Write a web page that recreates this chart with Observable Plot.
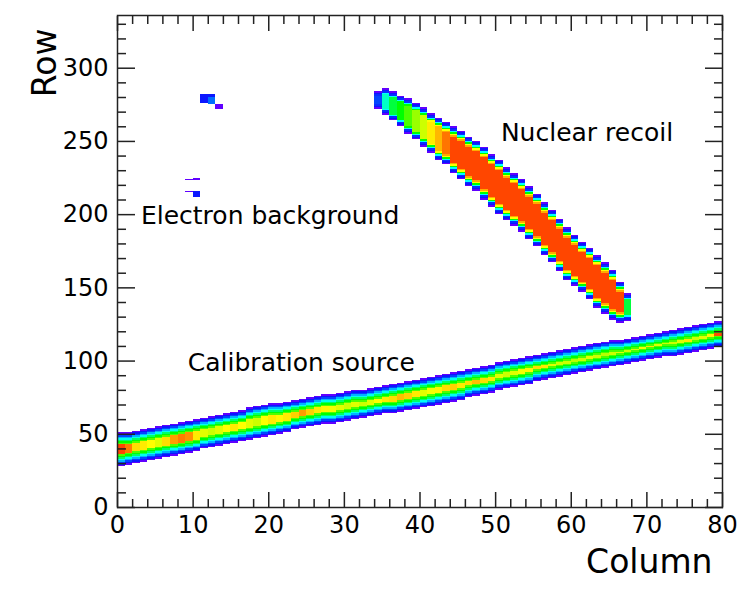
<!DOCTYPE html>
<html><head><meta charset="utf-8">
<script src="https://cdn.jsdelivr.net/npm/d3@7"></script>
<script src="https://cdn.jsdelivr.net/npm/@observablehq/plot@0.6"></script>
<style>body{margin:0;background:#fff} svg{display:block}</style>
</head><body><div id="chart"></div>
<script>
// ---- Nuclear recoil track (per column: lowest row, top row (exclusive), peak intensity) ----
const recoilColumns = [34,35,36,37,38,39,40,41,42,43,44,45,46,47,48,49,50,51,52,53,54,55,56,57,58,59,60,61,62,63,64,65,66,67];
const recoilLow  = [272,268,264,260,255,251,246,242,237,234,228,224,219,216,210,205,200,196,192,188,183,178,172,167,161,155,151,147,142,136,132,128,126,127];
const recoilHigh = [284,286,284,281,279,276,273,269,266,263,260,257,253,250,246,241,237,232,228,224,219,214,208,203,197,191,186,181,177,172,167,162,154,146];
const recoilPeak = [0.14,0.34,0.42,0.45,0.5,0.55,0.6,0.68,0.76,0.86,1,1,1,1,1,1,1,1,1,1,1,1,1,1,1,1,1,1,1,1,1,1,1,0.42];
const recoilRamp = [0.03,0.1,0.12,0.3,0.45,0.65,0.78];

// ---- Calibration source track ----
const calibColumns = [0,1,2,3,4,5,6,7,8,9,10,11,12,13,14,15,16,17,18,19,20,21,22,23,24,25,26,27,28,29,30,31,32,33,34,35,36,37,38,39,40,41,42,43,44,45,46,47,48,49,50,51,52,53,54,55,56,57,58,59,60,61,62,63,64,65,66,67,68,69,70,71,72,73,74,75,76,77,78,79];
const calibLow  = [28,29,30,31,32,33,34,35,36,37,38,40,41,42,43,44,45,46,47,48,49,50,51,53,54,55,56,57,57,58,59,60,61,62,63,64,64,65,66,67,68,69,70,71,72,73,75,76,77,78,80,81,82,83,84,86,87,88,89,90,91,92,93,94,95,96,97,98,99,100,101,102,103,103,104,105,106,107,108,109];
const calibHigh = [51,51,52,53,54,55,56,57,58,59,60,61,62,63,64,65,66,68,69,70,71,71,72,73,74,75,76,77,77,78,79,80,80,81,82,83,84,85,86,87,88,89,90,91,92,93,94,95,96,97,99,100,101,102,103,104,105,106,107,108,109,110,111,112,113,114,114,115,116,117,118,119,120,121,122,123,124,125,126,127];
const calibPeak = [1,0.85,0.7,0.68,0.65,0.62,0.7,0.8,0.85,0.82,0.68,0.62,0.6,0.62,0.65,0.68,0.65,0.62,0.6,0.65,0.68,0.66,0.68,0.72,0.8,0.72,0.68,0.66,0.64,0.62,0.6,0.62,0.6,0.62,0.65,0.68,0.7,0.75,0.72,0.68,0.62,0.64,0.66,0.7,0.72,0.68,0.7,0.75,0.7,0.68,0.62,0.6,0.62,0.64,0.66,0.7,0.68,0.62,0.6,0.6,0.58,0.6,0.62,0.6,0.58,0.6,0.62,0.6,0.62,0.64,0.68,0.62,0.6,0.6,0.62,0.68,0.6,0.62,0.66,0.95];
const calibRamp = [0.03,0.1,0.14,0.24,0.31,0.4,0.45,0.5];

// ---- Electron background hits ----
const electronCol = [11,11,11,11,11,11,12,12,12,12,12,12,12,13,13,13,9,10,10,9,10,10,10,10];
const electronRow = [276,277,278,279,280,281,275,276,277,278,279,280,281,272,273,274,223,223,224,215,212,213,214,215];
const electronZ   = [0.1,0.1,0.1,0.1,0.1,0.1,0.18,0.18,0.18,0.18,0.18,0.1,0.1,0.03,0.03,0.03,0.03,0.03,0.03,0.03,0.1,0.1,0.1,0.1];

// ---- Axis ticks & palette ----
const xMajor = [0,10,20,30,40,50,60,70,80];
const xMinor = [2,4,6,8,12,14,16,18,22,24,26,28,32,34,36,38,42,44,46,48,52,54,56,58,62,64,66,68,72,74,76,78];
const yMajor = [0,50,100,150,200,250,300];
const yMinor = [10,20,30,40,60,70,80,90,110,120,130,140,160,170,180,190,210,220,230,240,260,270,280,290,310,320,330];
const paletteStops  = [0,0.08,0.15,0.22,0.3,0.38,0.45,0.55,0.65,0.78,0.9,1];
const paletteColors = ["#9000ff","#1000ff","#0050ff","#0099ff","#00ffff","#00ff90","#00ff00","#99ff00","#ffff00","#ffaa00","#ff5a00","#ff4600"];

const annotations = [
  {col: 50.7, row: 255.5, text: "Nuclear recoil"},
  {col: 3.1, row: 198.8, text: "Electron background"},
  {col: 9.3, row: 99, text: "Calibration source"}
];

// Build cells from the per-column track descriptions
const cells = [];
function addTrack(cols, lo, hi, peak, ramp) {
  cols.forEach((c, i) => {
    for (let r = lo[i]; r < hi[i]; r++) {
      const d = Math.min(r - lo[i], hi[i] - 1 - r);
      const z = d < ramp.length ? Math.min(peak[i], ramp[d]) : peak[i];
      cells.push({col: c, row: r, z});
    }
  });
}
addTrack(recoilColumns, recoilLow, recoilHigh, recoilPeak, recoilRamp);
addTrack(calibColumns, calibLow, calibHigh, calibPeak, calibRamp);
electronCol.forEach((c, i) => cells.push({col: c, row: electronRow[i], z: electronZ[i]}));

const tickStyle = {fill: "none", label: null, strokeWidth: 1.5, stroke: "#222"};
const chart = Plot.plot({
  width: 747, height: 598,
  marginLeft: 117, marginRight: 25, marginTop: 15, marginBottom: 91,
  x: {domain: [0, 80], axis: null},
  y: {domain: [0, 336], axis: null},
  color: {type: "linear", domain: paletteStops, range: paletteColors, clamp: true},
  style: {fontFamily: "DejaVu Sans", background: "white", color: "black"},
  marks: [
    Plot.rect(cells, {x1: "col", x2: d => d.col + 1, y1: "row", y2: d => d.row + 1, fill: "z", shapeRendering: "crispEdges"}),
    Plot.axisX({anchor: "bottom", ticks: xMinor, tickSize: -8, ...tickStyle}),
    Plot.axisX({anchor: "bottom", ticks: xMajor, tickSize: -15, ...tickStyle}),
    Plot.axisX({anchor: "top", ticks: xMinor, tickSize: -8, ...tickStyle}),
    Plot.axisX({anchor: "top", ticks: xMajor, tickSize: -15, ...tickStyle}),
    Plot.axisY({anchor: "left", ticks: yMinor, tickSize: -9, ...tickStyle}),
    Plot.axisY({anchor: "left", ticks: yMajor, tickSize: -18, ...tickStyle}),
    Plot.axisY({anchor: "right", ticks: yMinor, tickSize: -9, ...tickStyle}),
    Plot.axisY({anchor: "right", ticks: yMajor, tickSize: -18, ...tickStyle}),
    Plot.axisX({anchor: "bottom", ticks: xMajor, tickSize: 0, tickPadding: 8, fontSize: 24, label: null}),
    Plot.axisY({anchor: "left", ticks: yMajor, tickSize: 0, tickPadding: 9, fontSize: 24, label: null}),
    Plot.frame({stroke: "#222", strokeWidth: 1.5}),
    Plot.text(annotations, {x: "col", y: "row", text: "text", textAnchor: "start", fontSize: 25}),
    Plot.text(["Column"], {frameAnchor: "bottom-right", dx: -10, dy: 65, textAnchor: "end", fontSize: 33}),
    Plot.text(["Row"], {frameAnchor: "top-left", dx: -85, dy: 13, rotate: -90, textAnchor: "end", fontSize: 33})
  ]
});
document.getElementById("chart").appendChild(chart);
</script>
</body></html>
